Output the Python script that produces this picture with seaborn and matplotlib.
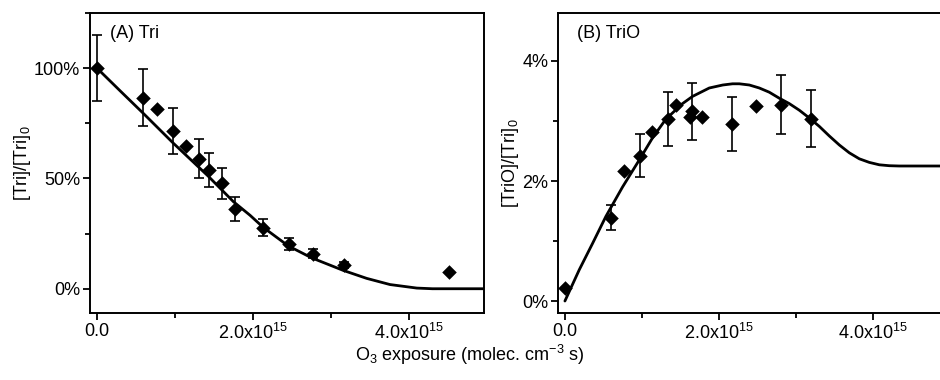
import numpy as np
import pandas as pd
import matplotlib
matplotlib.use("Agg")
import matplotlib.pyplot as plt
import seaborn as sns
from matplotlib.ticker import FuncFormatter, MultipleLocator

# ---------------------------------------------------------------
# Data (x in molec cm^-3 s, y in %)
# ---------------------------------------------------------------
tri_x = [0.0, 0.594e15, 0.765e15, 0.974e15, 1.137e15, 1.312e15, 1.432e15,
         1.607e15, 1.769e15, 2.132e15, 2.457e15, 2.765e15, 3.171e15, 4.517e15]
tri_y = [100, 86.6, 81.4, 71.5, 64.6, 59.0, 53.7, 47.8, 36.0, 27.7, 20.2,
         15.8, 10.7, 7.4]
tri_err = [15, 13, np.nan, 10.5, np.nan, 8.8, 7.8, 7.0, 5.5, 4.0, 2.7, 2.0,
           1.5, np.nan]

# model curve
tri_fit_x = [0.0, 0.3e15, 0.594e15, 0.978e15, 1.427e15, 1.748e15, 1.962e15,
             2.132e15, 2.453e15, 2.752e15, 3.158e15, 3.457e15, 3.756e15,
             4.1e15, 4.3e15, 5.0e15]
tri_fit_y = [100, 89.6, 79.5, 66.0, 51.0, 39.5, 33.3, 27.8, 19.4, 14.0, 8.3,
             4.7, 1.9, 0.3, 0, 0]

trio_x = [0.0, 0.599e15, 0.772e15, 0.98e15, 1.137e15, 1.332e15, 1.445e15,
          1.618e15, 1.649e15, 1.779e15, 2.169e15, 2.486e15, 2.802e15, 3.2e15]
trio_y = [0.21, 1.39, 2.16, 2.42, 2.81, 3.03, 3.26, 3.06, 3.16, 3.06, 2.95,
          3.25, 3.27, 3.04]
trio_err = [np.nan, 0.21, np.nan, 0.36, np.nan, 0.45, np.nan, np.nan, 0.47,
            np.nan, 0.45, np.nan, 0.49, 0.47]

trio_fit_x = [0.0, 0.186e15, 0.359e15, 0.532e15, 0.748e15, 0.965e15,
              1.138e15, 1.31e15, 1.527e15, 1.657e15, 1.874e15, 2.05e15,
              2.177e15, 2.264e15, 2.394e15, 2.524e15, 2.653e15, 2.783e15,
              2.913e15, 3.043e15, 3.173e15, 3.303e15, 3.433e15, 3.563e15,
              3.692e15, 3.822e15, 3.952e15, 4.082e15, 4.21e15, 4.34e15,
              5.0e15]
trio_fit_y = [0.0, 0.52, 0.96, 1.41, 1.9, 2.35, 2.72, 3.03, 3.29, 3.41,
              3.55, 3.60, 3.62, 3.62, 3.60, 3.55, 3.48, 3.38, 3.29, 3.18,
              3.05, 2.91, 2.75, 2.60, 2.47, 2.37, 2.31, 2.27, 2.255, 2.25,
              2.25]

# ---------------------------------------------------------------
# Style
# ---------------------------------------------------------------
sns.set_style("ticks")
plt.rcParams["font.family"] = ["Liberation Sans", "DejaVu Sans"]
plt.rcParams["mathtext.fontset"] = "custom"
plt.rcParams["mathtext.rm"] = "Liberation Sans"
plt.rcParams["mathtext.it"] = "Liberation Sans:italic"
plt.rcParams["font.size"] = 13
for key in ["text.color", "axes.labelcolor", "xtick.color", "ytick.color",
            "axes.edgecolor"]:
    plt.rcParams[key] = "black"

fig = plt.figure(figsize=(9.4, 3.8), dpi=100)
ax_a = fig.add_axes([0.0957, 0.1763, 0.4191, 0.7895])
ax_b = fig.add_axes([0.5936, 0.1763, 0.4138, 0.7895])


def sci_fmt(v, pos):
    if abs(v) < 1e10:
        return "0.0"
    return f"{v / 1e15:.1f}x10$^{{15}}$"


def panel(ax, x, y, err, fx, fy, ylim, ymaj, title, ylabel):
    sns.lineplot(x=fx, y=fy, ax=ax, color="black", linewidth=2.0)
    ax.errorbar(x, y, yerr=err, fmt="none", ecolor="black", elinewidth=1.2,
                capsize=3.3, capthick=1.2)
    sns.scatterplot(x=x, y=y, ax=ax, marker="D", s=55, color="black",
                    linewidth=0, zorder=5)
    ax.set_xlim(-0.09e15, 4.96e15)
    ax.set_ylim(*ylim)
    ax.xaxis.set_major_locator(MultipleLocator(2e15))
    ax.xaxis.set_minor_locator(MultipleLocator(1e15))
    ax.yaxis.set_major_locator(MultipleLocator(ymaj))
    ax.yaxis.set_minor_locator(MultipleLocator(ymaj / 2))
    ax.xaxis.set_major_formatter(FuncFormatter(sci_fmt))
    ax.yaxis.set_major_formatter(FuncFormatter(lambda v, p: f"{v:.0f}%"))
    ax.tick_params(which="major", direction="out", length=5, width=1.3,
                   labelsize=13, pad=2)
    ax.tick_params(which="minor", direction="out", length=3.5, width=1.3)
    for s in ax.spines.values():
        s.set_visible(True)
        s.set_linewidth(1.4)
        s.set_color("black")
    ax.set_ylabel(ylabel, fontsize=13, labelpad=1)
    ax.set_xlabel("")
    ax.text(0.05, 0.93, title, transform=ax.transAxes, fontsize=13,
            va="center", ha="left")


panel(ax_a, tri_x, tri_y, tri_err, tri_fit_x, tri_fit_y, (-11, 125), 50,
      "(A) Tri", "[Tri]/[Tri]$_0$")
panel(ax_b, trio_x, trio_y, trio_err, trio_fit_x, trio_fit_y, (-0.2, 4.8), 2,
      "(B) TriO", "[TriO]/[Tri]$_0$")

fig.text(0.5, 0.065, "O$_3$ exposure (molec. cm$^{-3}$ s)", ha="center",
         va="center", fontsize=13)

fig.savefig("out.png", dpi=100, facecolor="white")
